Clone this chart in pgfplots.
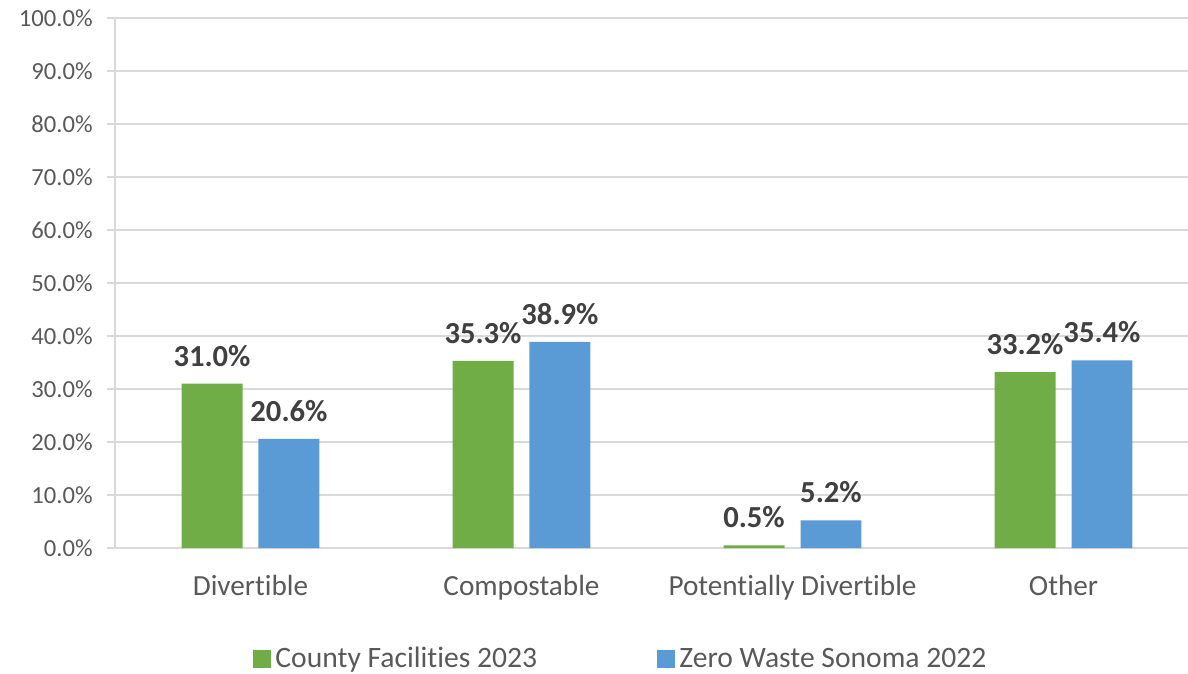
\documentclass[border=0pt]{standalone}
\usepackage{fontspec}
\setmainfont[Ligatures=NoCommon]{Carlito}
\usepackage{pgfplots}
\pgfplotsset{compat=1.18}
\definecolor{cgreen}{HTML}{70AD47}
\definecolor{cblue}{HTML}{5B9BD5}
\definecolor{gridc}{HTML}{D9D9D9}
\definecolor{tickc}{HTML}{595959}
\definecolor{labc}{HTML}{404040}

\begin{document}
\begin{tikzpicture}
\useasboundingbox (-57.5pt,-63pt) rectangle (536.5pt,274pt);
\begin{axis}[
  at={(0,0)}, anchor=south west,
  width=542pt, height=265pt, scale only axis,
  xmin=-0.5, xmax=3.5, ymin=0, ymax=100,
  axis x line=bottom, axis y line=left,
  axis line style={draw=gridc, line width=0.75pt, -},
  xtick={0,1,2,3},
  xticklabels={Divertible, Compostable, Potentially Divertible, Other},
  x tick style={draw=none},
  ytick={0,10,...,100},
  y tick style={draw=gridc, line width=0.75pt},
  tick align=outside, major tick length=4pt,
  ymajorgrids, grid style={draw=gridc, line width=0.75pt},
  yticklabel={\pgfmathprintnumber[fixed,fixed zerofill,precision=1]{\tick}\%},
  /pgf/number format/assume math mode=true,
  yticklabel style={font=\fontsize{12.3}{15}\selectfont, text=tickc, anchor=east, inner sep=0pt, xshift=-7pt},
  xticklabel style={font=\fontsize{14.6}{17}\selectfont, text=tickc, anchor=base, inner sep=0pt, yshift=-19.5pt},
  ybar, bar width=0.225,
  nodes near coords={\pgfmathprintnumber[fixed,fixed zerofill,precision=1]{\pgfplotspointmeta}\%},
  nodes near coords style={font=\bfseries\fontsize{15.3}{18}\selectfont, text=labc, anchor=south, inner sep=0pt, yshift=8.5pt},
  legend style={draw=none, fill=none, legend columns=2, at={(0.1273,-0.2094)}, anchor=west,
    inner sep=0pt, font=\fontsize{14.8}{17}\selectfont, text=tickc, cells={anchor=west}},
  legend image code/.code={\fill[#1] (0pt,-4.5pt) rectangle (9pt,4.5pt);},
]
\addplot[fill=cgreen, draw=none, bar shift=-0.142] coordinates {(0,31.0) (1,35.3) (2,0.5) (3,33.2)};
\addlegendentry{\makebox[189pt][l]{County Facilities 2023}}
\addplot[fill=cblue, draw=none, bar shift=0.142] coordinates {(0,20.6) (1,38.9) (2,5.2) (3,35.4)};
\addlegendentry{Zero Waste Sonoma 2022}
\end{axis}
\end{tikzpicture}
\end{document}
